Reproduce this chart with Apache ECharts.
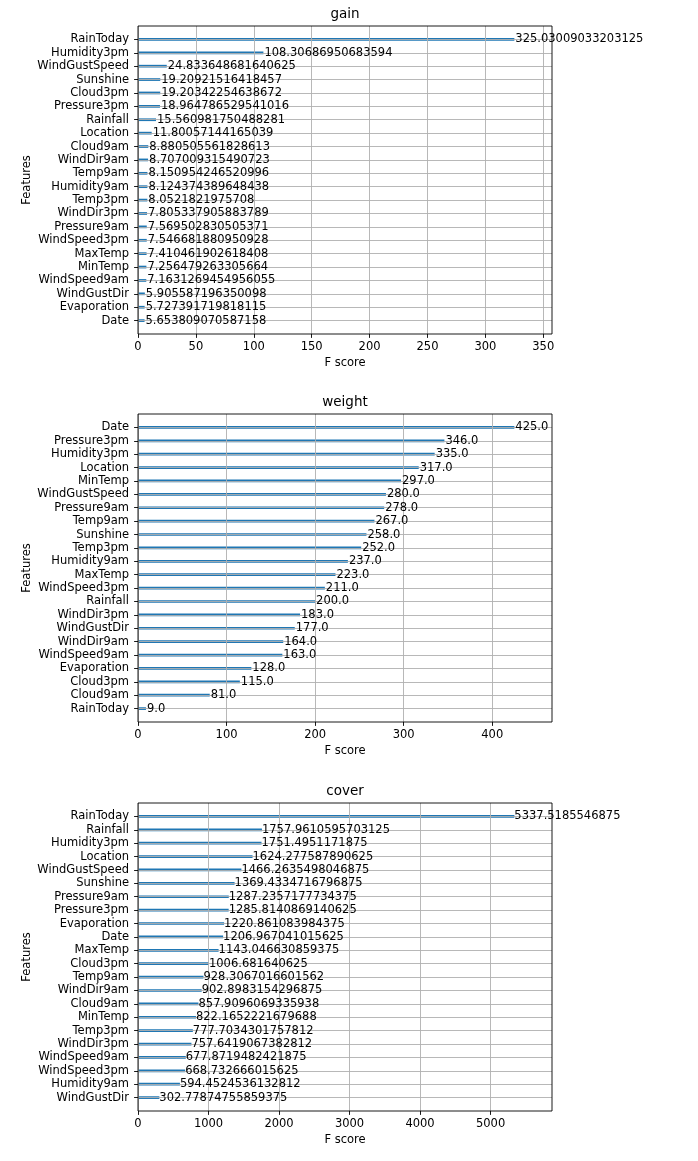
<!DOCTYPE html>
<html>
<head>
<meta charset="utf-8">
<script src="https://cdn.jsdelivr.net/npm/echarts@6/dist/echarts.min.js"></script>
<style>
html, body { margin: 0; padding: 0; background: #fff; }
#chart { width: 698px; height: 1161px; }
</style>
</head>
<body>
<div id="chart"></div>
<script>
// features listed top to bottom, as in the picture
const gainFeatures = ['RainToday', 'Humidity3pm', 'WindGustSpeed', 'Sunshine', 'Cloud3pm', 'Pressure3pm',
  'Rainfall', 'Location', 'Cloud9am', 'WindDir9am', 'Temp9am', 'Humidity9am', 'Temp3pm', 'WindDir3pm',
  'Pressure9am', 'WindSpeed3pm', 'MaxTemp', 'MinTemp', 'WindSpeed9am', 'WindGustDir', 'Evaporation', 'Date'];
const gainValues = [325.03009033203125, 108.30686950683594, 24.833648681640625, 19.20921516418457,
  19.20342254638672, 18.964786529541016, 15.560981750488281, 11.80057144165039, 8.880505561828613,
  8.707009315490723, 8.150954246520996, 8.124374389648438, 8.0521821975708, 7.805337905883789,
  7.569502830505371, 7.546681880950928, 7.410461902618408, 7.256479263305664, 7.1631269454956055,
  5.905587196350098, 5.727391719818115, 5.653809070587158];
const gainTicks = [0, 50, 100, 150, 200, 250, 300, 350];

const weightFeatures = ['Date', 'Pressure3pm', 'Humidity3pm', 'Location', 'MinTemp', 'WindGustSpeed',
  'Pressure9am', 'Temp9am', 'Sunshine', 'Temp3pm', 'Humidity9am', 'MaxTemp', 'WindSpeed3pm', 'Rainfall',
  'WindDir3pm', 'WindGustDir', 'WindDir9am', 'WindSpeed9am', 'Evaporation', 'Cloud3pm', 'Cloud9am', 'RainToday'];
const weightValues = [425, 346, 335, 317, 297, 280, 278, 267, 258, 252, 237, 223, 211, 200,
  183, 177, 164, 163, 128, 115, 81, 9];
const weightTicks = [0, 100, 200, 300, 400];

const coverFeatures = ['RainToday', 'Rainfall', 'Humidity3pm', 'Location', 'WindGustSpeed', 'Sunshine',
  'Pressure9am', 'Pressure3pm', 'Evaporation', 'Date', 'MaxTemp', 'Cloud3pm', 'Temp9am', 'WindDir9am',
  'Cloud9am', 'MinTemp', 'Temp3pm', 'WindDir3pm', 'WindSpeed9am', 'WindSpeed3pm', 'Humidity9am', 'WindGustDir'];
const coverValues = [5337.5185546875, 1757.9610595703125, 1751.4951171875, 1624.277587890625,
  1466.2635498046875, 1369.4334716796875, 1287.2357177734375, 1285.8140869140625, 1220.861083984375,
  1206.967041015625, 1143.046630859375, 1006.681640625, 928.3067016601562, 902.8983154296875,
  857.9096069335938, 822.1652221679688, 777.7034301757812, 757.6419067382812, 677.8719482421875,
  668.732666015625, 594.4524536132812, 302.77874755859375];
const coverTicks = [0, 1000, 2000, 3000, 4000, 5000];

const FONT = 'DejaVu Sans';
const FS = 11.5;
const BLUE = '#1f77b4';
const GRID_LEFT = 138, GRID_W = 414, GRID_H = 308;

const ctx = document.createElement('canvas').getContext('2d');
ctx.font = '13.5px "' + FONT + '"';

function fmt(v) {
  return Number.isInteger(v) ? v.toFixed(1) : String(v);
}

const option = {
  animation: false,
  backgroundColor: '#fff',
  title: [], grid: [], xAxis: [], yAxis: [], series: []
};

function addPanel(i, name, features, values, ticks, top, dist) {
  const cats = [''].concat(features.slice().reverse(), ['']);
  const data = ['-'].concat(values.slice().reverse(), ['-']);
  const inner = (idx) => idx > 0 && idx < cats.length - 1;
  const w = ctx.measureText(name).width;

  option.title.push({
    text: name, left: GRID_LEFT + GRID_W / 2 - w / 2, top: top - 19, padding: 0,
    textStyle: { fontFamily: FONT, fontSize: 13.5, fontWeight: 'normal', color: '#000' }
  });
  option.grid.push({
    left: GRID_LEFT, top: top, width: GRID_W, height: GRID_H,
    show: true, borderColor: '#000', borderWidth: 0.9, z: 2.5
  });
  option.xAxis.push({
    type: 'value', gridIndex: i, min: 0, max: Math.max(...values) * 1.1, z: 2,
    name: 'F score', nameLocation: 'middle', nameGap: 23, nameMoveOverlap: false,
    nameTextStyle: { fontFamily: FONT, fontSize: FS, color: '#000' },
    axisLine: { show: false },
    axisTick: { show: true, length: 3.9, lineStyle: { color: '#000', width: 0.9 }, customValues: ticks },
    axisLabel: { fontFamily: FONT, fontSize: FS, color: '#000', margin: 7, customValues: ticks,
      formatter: (v) => String(v) },
    splitLine: { show: true, lineStyle: { color: '#b0b0b0', width: 0.9 } }
  });
  option.yAxis.push({
    type: 'category', gridIndex: i, data: cats, boundaryGap: false, z: 2,
    name: 'Features', nameLocation: 'middle', nameGap: 105, nameMoveOverlap: false,
    nameTextStyle: { fontFamily: FONT, fontSize: FS, color: '#000' },
    axisLine: { show: false },
    axisTick: { show: true, length: 3.9, interval: inner, lineStyle: { color: '#000', width: 0.9 } },
    axisLabel: { fontFamily: FONT, fontSize: FS, color: '#000', margin: 9, interval: 0 },
    splitLine: { show: true, interval: inner, lineStyle: { color: '#b0b0b0', width: 0.9 } }
  });
  option.series.push({
    type: 'bar', xAxisIndex: i, yAxisIndex: i, data: data, barWidth: 2.7, z: 1,
    itemStyle: { color: BLUE }
  });
  option.series.push({
    type: 'bar', xAxisIndex: i, yAxisIndex: i, data: data, barWidth: 2.7, barGap: '-100%', z: 3,
    itemStyle: { color: 'rgba(0,0,0,0)' },
    label: {
      show: true, position: 'right', distance: dist,
      fontFamily: FONT, fontSize: FS, color: '#000',
      formatter: (p) => fmt(p.value)
    }
  });
}

addPanel(0, 'gain', gainFeatures, gainValues, gainTicks, 26, 1);
addPanel(1, 'weight', weightFeatures, weightValues, weightTicks, 414, 1);
addPanel(2, 'cover', coverFeatures, coverValues, coverTicks, 803, 0);

const chart = echarts.init(document.getElementById('chart'), null, { renderer: 'canvas' });
chart.setOption(option);
</script>
</body>
</html>
